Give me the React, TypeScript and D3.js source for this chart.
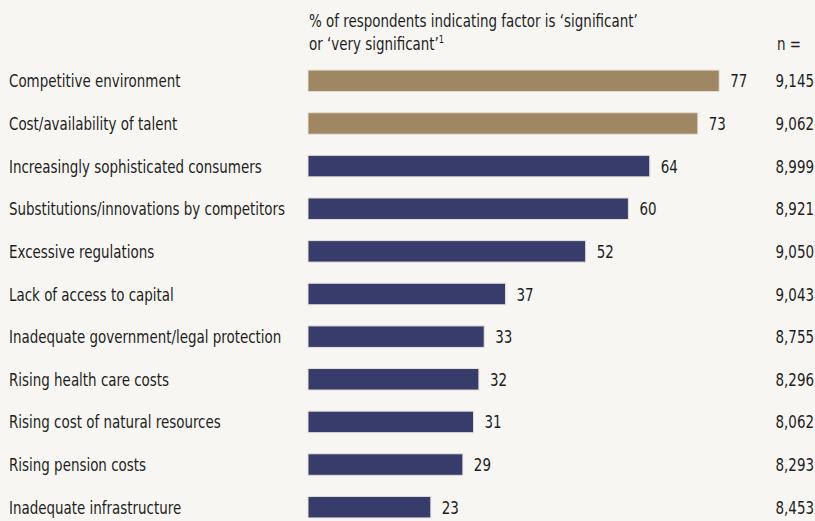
import React from "react";
import * as d3 from "d3";

const categories: string[] = [
  "Competitive environment",
  "Cost/availability of talent",
  "Increasingly sophisticated consumers",
  "Substitutions/innovations by competitors",
  "Excessive regulations",
  "Lack of access to capital",
  "Inadequate government/legal protection",
  "Rising health care costs",
  "Rising cost of natural resources",
  "Rising pension costs",
  "Inadequate infrastructure",
];
const values: number[] = [77, 73, 64, 60, 52, 37, 33, 32, 31, 29, 23];
const nValues: string[] = ["9,145", "9,062", "8,999", "8,921", "9,050", "9,043", "8,755", "8,296", "8,062", "8,293", "8,453"];
const highlighted: boolean[] = [true, true, false, false, false, false, false, false, false, false, false];

const W = 815;
const H = 521;
const FONT = "'DejaVu Sans Condensed', 'DejaVu Sans', sans-serif";
const FS = 18;
const SX = 0.83;
const INK = "#1e1e1e";

function T(props: { x: number; y: number; anchor?: string; children: React.ReactNode }) {
  return (
    <text
      transform={`translate(${props.x},${props.y}) scale(${SX},1)`}
      textAnchor={props.anchor || "start"}
      fontSize={FS}
      fill={INK}
    >
      {props.children}
    </text>
  );
}

export default function App() {
  const x = d3.scaleLinear().domain([0, 100]).range([308, 842]);
  const y = d3
    .scaleBand<string>()
    .domain(categories)
    .range([59.5, 528.5])
    .paddingInner(0.5)
    .paddingOuter(0.25);
  const bh = 21.5;
  return (
    <svg
      width={W}
      height={H}
      style={{ position: "absolute", left: 0, top: 0, background: "#f7f6f3" }}
      fontFamily={FONT}
    >
      <rect x={0} y={0} width={W} height={H} fill="#f7f6f3" />
      <T x={309} y={27}>% of respondents indicating factor is ‘significant’</T>
      <T x={309} y={50}>
        or ‘very significant’
        <tspan fontSize={11} dy={-7}>1</tspan>
      </T>
      <T x={777} y={50}>n =</T>
      {categories.map((c, i) => {
        const cy = (y(c) as number) + y.bandwidth() / 2;
        const color = highlighted[i] ? "#a08764" : "#383c6a";
        return (
          <g key={c}>
            <T x={9} y={cy + 6.5}>{c}</T>
            <rect
              x={x(0)}
              y={cy - bh / 2}
              width={x(values[i]) - x(0)}
              height={bh}
              fill={color}
              stroke="#e4e0d8"
              strokeWidth={1}
            />
            <T x={x(values[i]) + 11} y={cy + 6.5}>{values[i]}</T>
            <T x={814} y={cy + 6.5} anchor="end">{nValues[i]}</T>
          </g>
        );
      })}
    </svg>
  );
}
